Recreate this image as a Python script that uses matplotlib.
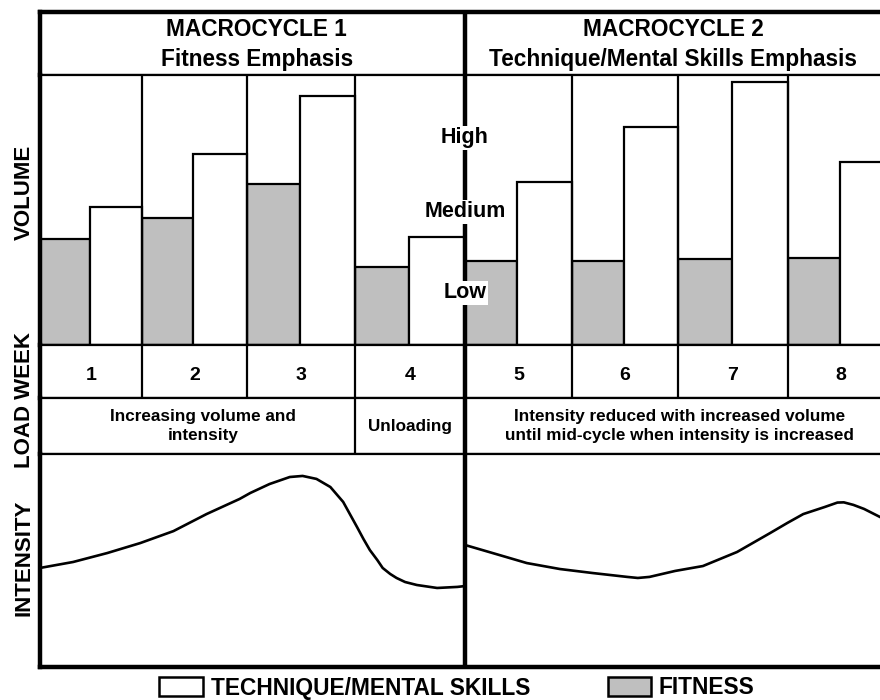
import matplotlib
matplotlib.use('Agg')
import matplotlib.pyplot as plt
from matplotlib.patches import Patch
import numpy as np

plt.rcParams['font.family'] = ['Liberation Sans', 'DejaVu Sans']
plt.rcParams['font.weight'] = 'bold'

# data
week_labels = ['1', '2', '3', '4', '5', '6', '7', '8']
fitness = [39.3, 47.0, 59.6, 28.9, 31.1, 31.1, 31.9, 32.2]
technique = [51.1, 70.7, 92.2, 40.0, 60.4, 80.7, 97.4, 67.8]
level_names = ['High', 'Medium', 'Low']
level_pos = [76.7, 49.3, 19.3]

int1_x = [0.0, 0.31, 0.63, 0.94, 1.25, 1.56, 1.87, 1.97, 2.15, 2.34, 2.46,
          2.59, 2.72, 2.84, 2.97, 3.03, 3.09, 3.16, 3.21, 3.28, 3.34, 3.42,
          3.53, 3.72, 3.91, 3.98]
int1_y = [46.5, 49.3, 53.5, 58.2, 63.8, 71.8, 78.9, 81.7, 85.9, 89.2, 89.7,
          88.3, 84.5, 77.5, 65.7, 60.1, 54.9, 50.2, 46.5, 43.7, 41.8, 39.9,
          38.5, 37.1, 37.6, 38.0]
int2_x = [3.98, 4.24, 4.56, 4.87, 5.18, 5.50, 5.60, 5.71, 5.95, 6.21, 6.53,
          6.84, 7.0, 7.15, 7.35, 7.47, 7.53, 7.62, 7.72, 7.87]
int2_y = [57.3, 53.5, 48.8, 46.0, 44.1, 42.3, 41.8, 42.3, 45.1, 47.4, 54.0,
          62.9, 67.6, 71.8, 75.1, 77.2, 77.3, 76.1, 74.2, 70.4]

headers = ['MACROCYCLE 1\nFitness Emphasis',
           'MACROCYCLE 2\nTechnique/Mental Skills Emphasis']
load_texts = ['Increasing volume and\nintensity', 'Unloading',
              'Intensity reduced with increased volume\nuntil mid-cycle when intensity is increased']

# grid of the drawing (week column edges, in week units)
edges = np.array([0, 0.955, 1.94, 2.95, 3.98, 4.985, 5.975, 7.005, 8.0])
mid = edges[4]
left_e = edges[:-1]
widths = np.diff(edges)

GRAY = '#bfbfbf'
THICK = 3.2
THIN = 1.6
W, H = 880, 700

fig = plt.figure(figsize=(8.8, 7), dpi=100)


def row_axes(top_px, bot_px):
    left, right = 40, 894
    ax = fig.add_axes([left / W, 1 - bot_px / H, (right - left) / W, (bot_px - top_px) / H])
    ax.set_xlim(0, 8)
    ax.set_xticks([])
    ax.set_yticks([])
    for s in ['left', 'right']:
        ax.spines[s].set_linewidth(THICK)
    for s in ['top', 'bottom']:
        ax.spines[s].set_linewidth(THIN)
    ax.axvline(mid, color='k', lw=THICK, zorder=4)
    return ax


# header row
ax_h = row_axes(12, 75)
ax_h.spines['top'].set_linewidth(THICK)
ax_h.set_ylim(0, 1)
for xc, t in zip([2.03, 5.93], headers):
    ax_h.text(xc, 0.48, t, ha='center', va='center', fontsize=16.3,
              fontweight='bold', linespacing=1.4)

# volume bars
ax_b = row_axes(75, 345)
ax_b.set_ylim(0, 100)
gw = 0.49 * widths
ax_b.bar(left_e, fitness, width=gw, align='edge', color=GRAY,
         edgecolor='k', lw=THIN, zorder=2)
ax_b.bar(left_e + gw, technique, width=widths - gw, align='edge', color='white',
         edgecolor='k', lw=THIN, zorder=2)
for e in np.delete(edges[1:-1], 3):
    ax_b.axvline(e, color='k', lw=THIN, zorder=3)
for name, pos in zip(level_names, level_pos):
    ax_b.text(mid, pos, name, ha='center', va='center', fontsize=15.5,
              fontweight='bold', zorder=6,
              bbox=dict(facecolor='white', edgecolor='none', pad=1))

# week row
ax_w = row_axes(345, 398)
ax_w.set_ylim(0, 1)
for e in np.delete(edges[1:-1], 3):
    ax_w.axvline(e, color='k', lw=THIN)
for x0, wd, lab in zip(left_e, widths, week_labels):
    ax_w.text(x0 + wd / 2, 0.42, lab, ha='center', va='center', fontsize=14,
              fontweight='bold')

# load description row
ax_l = row_axes(398, 454)
ax_l.set_ylim(0, 1)
ax_l.axvline(edges[3], color='k', lw=THIN)
for xc, t in zip([(edges[0] + edges[3]) / 2 + 0.05, (edges[3] + edges[4]) / 2,
                  (edges[4] + edges[8]) / 2], load_texts):
    ax_l.text(xc, 0.5, t, ha='center', va='center', fontsize=12.3,
              fontweight='bold', linespacing=1.3)

# intensity row
ax_i = row_axes(454, 667)
ax_i.spines['bottom'].set_linewidth(THICK)
ax_i.set_ylim(0, 100)
ax_i.plot(int1_x, int1_y, color='k', lw=1.9, solid_joinstyle='round')
ax_i.plot(int2_x, int2_y, color='k', lw=1.9, solid_joinstyle='round')

# side labels
side = [('VOLUME', 192), ('LOAD WEEK', 400), ('INTENSITY', 558)]
for t, yp in side:
    fig.text(24 / W, 1 - yp / H, t, rotation=90, ha='center', va='center',
             fontsize=16, fontweight='bold')

# legend
handles = [Patch(facecolor='white', edgecolor='k', lw=1.8),
           Patch(facecolor=GRAY, edgecolor='k', lw=1.8)]
fig.legend(handles, ['TECHNIQUE/MENTAL SKILLS', 'FITNESS'], ncol=2,
           loc='center', bbox_to_anchor=(457 / W, 1 - 688 / H),
           frameon=False, prop={'size': 16.4, 'weight': 'bold'},
           handlelength=1.9, handleheight=0.95, handletextpad=0.35,
           columnspacing=3.4, borderpad=0, borderaxespad=0)

fig.savefig('out.png', dpi=100)
